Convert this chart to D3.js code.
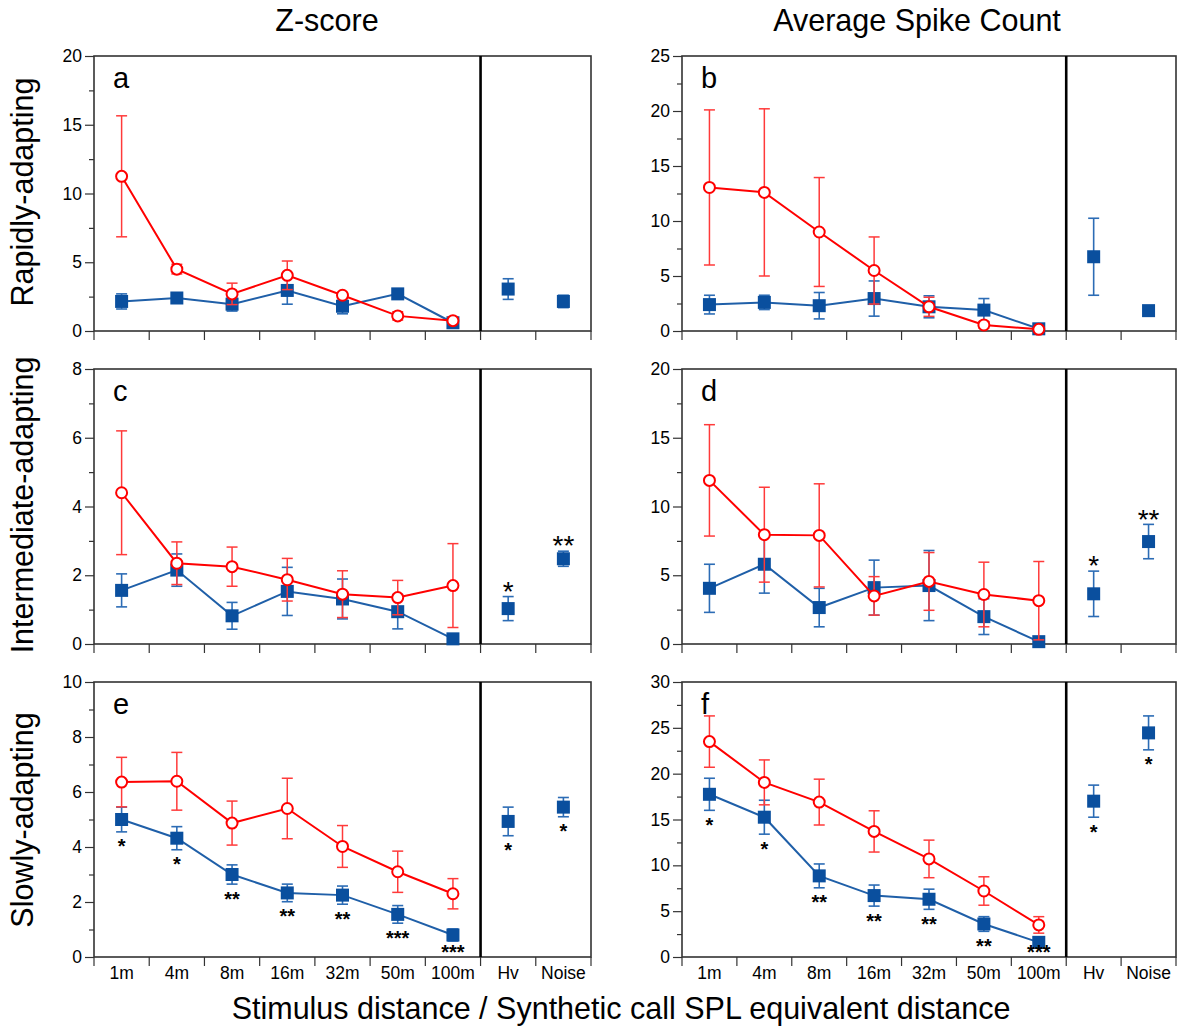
<!DOCTYPE html>
<html><head><meta charset="utf-8">
<script src="https://cdn.jsdelivr.net/npm/d3@7/dist/d3.min.js"></script>
<style>body{margin:0;background:#fff}svg{display:block}text{font-family:"Liberation Sans",Arial,sans-serif;fill:#000}</style>
</head><body><svg id="c" width="1179" height="1028"></svg>
<script>
const categories = ["1m","4m","8m","16m","32m","50m","100m","Hv","Noise"];
const colTitles = ["Z-score","Average Spike Count"];
const rowTitles = ["Rapidly-adapting","Intermediate-adapting","Slowly-adapting"];
const xTitle = "Stimulus distance / Synthetic call SPL equivalent distance";
const panelLetters = ["a","b","c","d","e","f"];
const yMax = [20,25,8,20,10,30];
const yMajor = [5,5,2,5,2,5];

// red open circles (7 distances)
const aRed = [11.25,4.5,2.7,4.05,2.6,1.1,0.75];
const aRedErr = [4.4,0.35,0.78,1.04,0.2,0.3,0.15];
const aBlue = [2.15,2.4,1.95,2.95,1.8,2.7,0.6,3.05,2.15];
const aBlueErr = [0.55,0.35,0.5,1.0,0.55,0.35,0.15,0.75,0.45];

const bRed = [13.05,12.6,9.0,5.5,2.2,0.55,0.15];
const bRedErr = [7.05,7.6,4.95,3.05,0.87,0.3,0.15];
const bBlue = [2.4,2.6,2.3,2.95,2.2,1.9,0.2,6.75,1.85];
const bBlueErr = [0.85,0.65,1.2,1.6,1.0,1.05,0.2,3.5,0.3];

const cRed = [4.4,2.35,2.25,1.87,1.45,1.35,1.7];
const cRedErr = [1.8,0.62,0.57,0.62,0.68,0.5,1.22];
const cBlue = [1.56,2.15,0.82,1.53,1.31,0.94,0.15,1.03,2.48];
const cBlueErr = [0.48,0.47,0.39,0.7,0.58,0.5,0.1,0.35,0.22];

const dRed = [11.9,7.95,7.9,3.5,4.55,3.6,3.15];
const dRedErr = [4.05,3.45,3.75,1.4,2.1,2.35,2.85];
const dBlue = [4.05,5.8,2.65,4.1,4.25,1.99,0.17,3.65,7.45];
const dBlueErr = [1.75,2.1,1.4,2.0,2.55,1.3,0.15,1.65,1.25];

const eRed = [6.36,6.39,4.87,5.4,4.02,3.1,2.3];
const eRedErr = [0.9,1.05,0.8,1.1,0.76,0.75,0.55];
const eBlue = [5.0,4.32,3.0,2.33,2.25,1.55,0.8,4.93,5.45];
const eBlueErr = [0.45,0.42,0.35,0.32,0.33,0.32,0.22,0.52,0.35];

const fRed = [23.5,19.05,16.9,13.7,10.7,7.2,3.5];
const fRedErr = [2.8,2.45,2.5,2.25,2.05,1.55,0.9];
const fBlue = [17.75,15.25,8.85,6.7,6.3,3.6,1.6,17.0,24.45];
const fBlueErr = [1.75,1.85,1.3,1.15,1.1,0.8,0.6,1.75,1.85];

// significance marks on blue series ("" = none)
const noStars = ["","","","","","","","",""];
const cdStars = ["","","","","","","","*","**"];
const eStars = ["*","*","**","**","**","***","***","*","*"];
const fStars = ["*","*","**","**","**","**","***","*","*"];

const panels = [
  {red:aRed, redErr:aRedErr, blue:aBlue, blueErr:aBlueErr, stars:noStars, starPos:"below"},
  {red:bRed, redErr:bRedErr, blue:bBlue, blueErr:bBlueErr, stars:noStars, starPos:"below"},
  {red:cRed, redErr:cRedErr, blue:cBlue, blueErr:cBlueErr, stars:cdStars, starPos:"above"},
  {red:dRed, redErr:dRedErr, blue:dBlue, blueErr:dBlueErr, stars:cdStars, starPos:"above"},
  {red:eRed, redErr:eRedErr, blue:eBlue, blueErr:eBlueErr, stars:eStars, starPos:"below"},
  {red:fRed, redErr:fRedErr, blue:fBlue, blueErr:fBlueErr, stars:fStars, starPos:"below"}
];

const svg = d3.select("#c");
const cols = [{x0:94,x1:591},{x0:682,x1:1176}];
const rows = [{y0:56,y1:331},{y0:369,y1:644},{y0:682,y1:957}];
const RED = "#ff0000", REDERR = "#ff3a3a", BLUE = "#0a4f9e", BLUELINE = "#1f5fa8", BLUEERR = "#2c6cb5";
const BIG = "30.5px", TICK = "17.5px";

// titles
svg.append("text").attr("x",327).attr("y",31).attr("text-anchor","middle").style("font-size",BIG).text(colTitles[0]);
svg.append("text").attr("x",917).attr("y",31).attr("text-anchor","middle").style("font-size",BIG).text(colTitles[1]);
rowTitles.forEach((t,i)=>{
  const cy = [192,505,820][i];
  svg.append("text").attr("transform",`translate(33,${cy}) rotate(-90)`).attr("text-anchor","middle").style("font-size",BIG).text(t);
});
svg.append("text").attr("x",621).attr("y",1019).attr("text-anchor","middle").style("font-size",BIG).text(xTitle);

panels.forEach((p,i)=>{
  const col = cols[i%2], row = rows[Math.floor(i/2)];
  const x = d3.scaleBand().domain(categories).range([col.x0,col.x1]).padding(0);
  const y = d3.scaleLinear().domain([0,yMax[i]]).range([row.y1,row.y0]);
  const g = svg.append("g");
  const cx = c => x(c)+x.bandwidth()/2;

  // minor ticks
  const minor = d3.range(yMax[i]/yMajor[i]).map(k=>(k+0.5)*yMajor[i]);
  g.append("g").attr("transform",`translate(${col.x0},0)`)
    .call(d3.axisLeft(y).tickValues(minor).tickSize(5).tickFormat(""))
    .call(s=>s.select(".domain").remove())
    .call(s=>s.selectAll("line").attr("stroke","#333").attr("stroke-width",1.2));
  // major ticks
  g.append("g").attr("transform",`translate(${col.x0},0)`)
    .call(d3.axisLeft(y).tickValues(d3.range(0,yMax[i]+0.001,yMajor[i])).tickSize(9).tickPadding(3))
    .call(s=>s.select(".domain").remove())
    .call(s=>s.selectAll("line").attr("stroke","#333").attr("stroke-width",1.2))
    .call(s=>s.selectAll("text").style("font-size",TICK).attr("fill","#000"));

  // x boundary ticks
  const bounds = categories.map(c=>x(c)).concat([col.x1]);
  g.selectAll(".xt").data(bounds).join("line")
    .attr("x1",d=>d).attr("x2",d=>d).attr("y1",row.y1).attr("y2",row.y1+9)
    .attr("stroke","#333").attr("stroke-width",1.2);
  if (Math.floor(i/2)===2) {
    g.append("g").attr("transform",`translate(0,${row.y1})`)
      .call(d3.axisBottom(x).tickSize(0).tickPadding(10))
      .call(s=>s.select(".domain").remove())
      .call(s=>s.selectAll("text").style("font-size",TICK).attr("fill","#000"));
  }

  // frame
  g.append("rect").attr("x",col.x0).attr("y",row.y0).attr("width",col.x1-col.x0).attr("height",row.y1-row.y0)
    .attr("fill","none").attr("stroke","#333").attr("stroke-width",1.6);
  g.append("line").attr("x1",x("Hv")).attr("x2",x("Hv")).attr("y1",row.y0).attr("y2",row.y1)
    .attr("stroke","#000").attr("stroke-width",2.6);

  // letter
  g.append("text").attr("x",col.x0+19).attr("y",row.y0+32).style("font-size","29px").text(panelLetters[i]);

  const cap = 5.5;
  const errBars = (vals, errs, color, sw) => {
    const d = vals.map((v,k)=>({c:categories[k],v,e:errs[k]}));
    const eg = g.append("g").attr("stroke",color).attr("stroke-width",sw).attr("fill","none");
    d.forEach(o=>{
      const X = cx(o.c), hi = y(o.v+o.e), lo = y(Math.max(0,o.v-o.e));
      eg.append("line").attr("x1",X).attr("x2",X).attr("y1",hi).attr("y2",lo);
      eg.append("line").attr("x1",X-cap).attr("x2",X+cap).attr("y1",hi).attr("y2",hi);
      eg.append("line").attr("x1",X-cap).attr("x2",X+cap).attr("y1",lo).attr("y2",lo);
    });
  };

  // blue series
  errBars(p.blue,p.blueErr,BLUEERR,1.6);
  const blueLine = p.blue.slice(0,7).map((v,k)=>[cx(categories[k]),y(v)]);
  g.append("path").attr("d",d3.line()(blueLine)).attr("fill","none").attr("stroke",BLUELINE).attr("stroke-width",2);
  g.selectAll(".sq").data(p.blue).join("rect")
    .attr("x",(v,k)=>cx(categories[k])-6.5).attr("y",v=>y(v)-6.5).attr("width",13).attr("height",13)
    .attr("fill",BLUE);

  // red series
  errBars(p.red,p.redErr,REDERR,1.5);
  const redLine = p.red.map((v,k)=>[cx(categories[k]),y(v)]);
  g.append("path").attr("d",d3.line()(redLine)).attr("fill","none").attr("stroke",RED).attr("stroke-width",2);
  g.selectAll(".ci").data(p.red).join("circle")
    .attr("cx",(v,k)=>cx(categories[k])).attr("cy",v=>y(v)).attr("r",5.5)
    .attr("fill","#fff").attr("stroke",RED).attr("stroke-width",2);

  // stars
  p.stars.forEach((s,k)=>{
    if(!s) return;
    const X = cx(categories[k]);
    if (p.starPos==="above") {
      const fs = 28, cyS = y(p.blue[k]+p.blueErr[k]) - 12;
      g.append("text").attr("x",X).attr("y",cyS+0.58*fs).attr("text-anchor","middle").style("font-size",fs+"px").text(s);
    } else {
      const fs = 20, cyS = Math.min(y(p.blue[k]-p.blueErr[k]) + 10, row.y1 - 10);
      g.append("text").attr("x",X).attr("y",cyS+0.58*fs).attr("text-anchor","middle").style("font-size",fs+"px").style("font-weight","bold").text(s);
    }
  });
});
</script></body></html>
